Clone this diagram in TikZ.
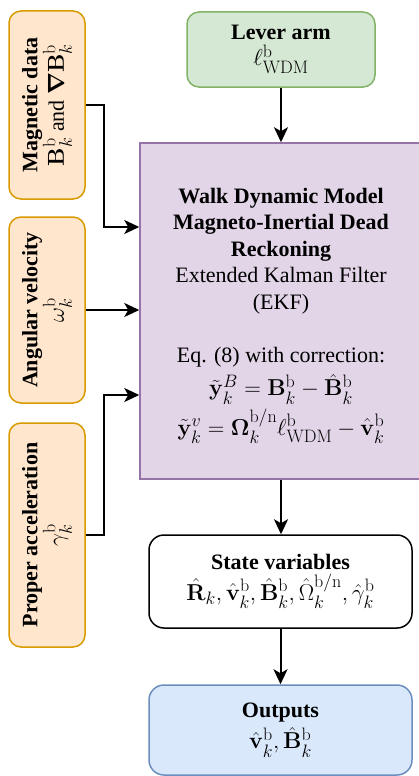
\RequirePackage{fix-cm}
\documentclass[tikz,border=0pt]{standalone}
\usepackage{amsmath}
\usepackage[no-math]{fontspec}
\setmainfont{Liberation Serif}
\usetikzlibrary{arrows.meta}
\DeclareMathSizes{22}{23}{18}{13}
\definecolor{orF}{HTML}{FFE6CC}
\definecolor{orS}{HTML}{D79B00}
\definecolor{grF}{HTML}{D5E8D4}
\definecolor{grS}{HTML}{82B366}
\definecolor{puF}{HTML}{E1D5E7}
\definecolor{puS}{HTML}{9673A6}
\definecolor{blF}{HTML}{DAE8FC}
\definecolor{blS}{HTML}{6C8EBF}
\tikzset{
  base/.style={line width=1.5pt, align=center, inner sep=0pt, font=\fontsize{22}{26.5}\selectfont},
  inbox/.style={base, draw=orS, fill=orF, rounded corners=12pt, rotate=90, minimum height=76pt},
  greenbox/.style={base, draw=grS, fill=grF, rounded corners=12pt},
  mainbox/.style={base, draw=puS, fill=puF},
  statebox/.style={base, draw=black, fill=white, rounded corners=15pt},
  outbox/.style={base, draw=blS, fill=blF, rounded corners=15pt},
  arr/.style={line width=2pt, -{Stealth[length=15pt,width=14pt,inset=4pt]}}
}
\begin{document}
\begin{tikzpicture}[x=1pt,y=-1pt]
\useasboundingbox (0,0) rectangle (418,776);
\node[greenbox, minimum width=188pt, minimum height=75pt] (lever) at (281,49.5)
  {\textbf{Lever arm}\\ $\ell^{\mathrm{b}}_{\mathrm{WDM}}$};
\node[mainbox, minimum width=282pt, minimum height=336pt] (main) at (281,311)
  {\rule{0pt}{25pt}\textbf{Walk Dynamic Model}\\ \textbf{Magneto-Inertial Dead}\\ \textbf{Reckoning}\\
   Extended Kalman Filter\\ (EKF)\\[26.5pt]
   Eq. (8) with correction:\\[6pt]
   $\tilde{\mathbf{y}}_k^{B} = \mathbf{B}_k^{\mathrm{b}} - \hat{\mathbf{B}}_k^{\mathrm{b}}$\\[4pt]
   $\tilde{\mathbf{y}}_k^{v} = \boldsymbol{\Omega}_k^{\mathrm{b/n}}\ell^{\mathrm{b}}_{\mathrm{WDM}} - \hat{\mathbf{v}}_k^{\mathrm{b}}$};
\node[inbox, minimum width=188pt] (mag) at (47,105)
  {\textbf{Magnetic data}\\ $\mathbf{B}_k^{\mathrm{b}}$ and $\boldsymbol{\nabla}\mathbf{B}_k^{\mathrm{b}}$};
\node[inbox, minimum width=186pt] (ang) at (47,310)
  {\textbf{Angular velocity}\\ $\omega_k^{\mathrm{b}}$};
\node[inbox, minimum width=224pt] (prop) at (47,535)
  {\textbf{Proper acceleration}\\ $\gamma_k^{\mathrm{b}}$};
\node[statebox, minimum width=263pt, minimum height=93pt] (state) at (280.5,581.5)
  {\textbf{State variables}\\[4pt] $\hat{\mathbf{R}}_k, \hat{\mathbf{v}}_k^{\mathrm{b}}, \hat{\mathbf{B}}_k^{\mathrm{b}}, \hat{\Omega}_k^{\mathrm{b/n}}, \hat{\gamma}_k^{\mathrm{b}}$};
\node[outbox, minimum width=263pt, minimum height=90pt] (out) at (280.5,730)
  {\textbf{Outputs}\\[4pt] $\hat{\mathbf{v}}_k^{\mathrm{b}}, \hat{\mathbf{B}}_k^{\mathrm{b}}$};
\draw[arr] (lever.south) -- (lever.south |- main.north);
\draw[arr] (main.south) -- (main.south |- state.north);
\draw[arr] (state.south) -- (state.south |- out.north);
\draw[arr] (mag.south) -- ++(18,0) |- ([yshift=84pt]main.west);
\draw[arr] (ang.south) -- (ang.south -| main.west);
\draw[arr] (prop.south) -- ++(18,0) |- ([yshift=-84pt]main.west);
\end{tikzpicture}
\end{document}
